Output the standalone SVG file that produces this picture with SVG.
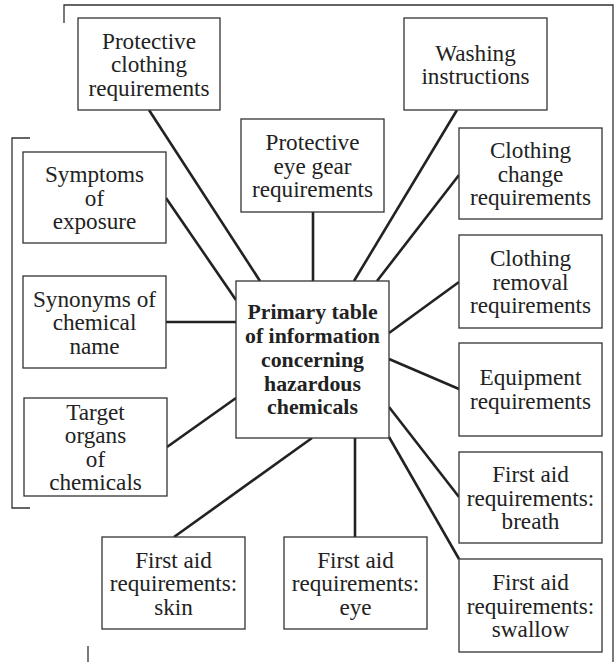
<svg xmlns="http://www.w3.org/2000/svg" width="616" height="662" viewBox="0 0 616 662">
  <style>
    .box { fill: #fff; stroke: #333; stroke-width: 1.3; }
    .frame { fill: none; stroke: #333; stroke-width: 1.3; }
    .link { stroke: #222; stroke-width: 2.6; fill: none; stroke-linecap: butt; }
    text { font-size: 23.2px; fill: #222; text-anchor: middle; }
    .hub text { font-weight: bold; font-size: 21.8px; }
  </style>
  <rect width="616" height="662" fill="#fff"/>

  <!-- brackets framing the groups -->
  <g id="brackets">
    <path class="frame" d="M64,23 V5 H613 V662"/>
    <path class="frame" d="M30,138 H12 V508 H30"/>
    <path class="frame" d="M88,646 V662"/>
  </g>

  <!-- connectors from the central table -->
  <g id="connectors">
    <line class="link" x1="149" y1="110" x2="260" y2="281"/>
    <line class="link" x1="313" y1="212" x2="313" y2="281"/>
    <line class="link" x1="457" y1="110" x2="354" y2="281"/>
    <line class="link" x1="459" y1="175" x2="377" y2="281"/>
    <line class="link" x1="459" y1="282" x2="389" y2="333"/>
    <line class="link" x1="459" y1="389" x2="389" y2="359"/>
    <line class="link" x1="459" y1="497" x2="389" y2="407"/>
    <line class="link" x1="459" y1="559" x2="389" y2="437"/>
    <line class="link" x1="355" y1="438" x2="355" y2="537"/>
    <line class="link" x1="174" y1="537" x2="312" y2="438"/>
    <line class="link" x1="167" y1="447" x2="236" y2="398"/>
    <line class="link" x1="166" y1="322" x2="236" y2="322"/>
    <line class="link" x1="166" y1="198" x2="236" y2="300"/>
  </g>

  <g font-family="'Liberation Serif', 'Times New Roman', Times, serif">
  <g id="hub" class="hub">
    <rect class="box" x="236" y="281" width="153" height="157"/>
    <text x="312.5" y="319">Primary table</text>
    <text x="312.5" y="343">of information</text>
    <text x="312.5" y="367">concerning</text>
    <text x="312.5" y="391">hazardous</text>
    <text x="312.5" y="414">chemicals</text>
  </g>

  <g id="protective-clothing">
    <rect class="box" x="78" y="18" width="142" height="92"/>
    <text x="149" y="48.5">Protective</text>
    <text x="149" y="72">clothing</text>
    <text x="149" y="95.5">requirements</text>
  </g>

  <g id="washing">
    <rect class="box" x="404" y="18" width="143" height="92"/>
    <text x="475.5" y="60.5">Washing</text>
    <text x="475.5" y="84">instructions</text>
  </g>

  <g id="eye-gear">
    <rect class="box" x="241" y="119" width="143" height="93"/>
    <text x="312.5" y="150">Protective</text>
    <text x="312.5" y="173.5">eye gear</text>
    <text x="312.5" y="197">requirements</text>
  </g>

  <g id="clothing-change">
    <rect class="box" x="459" y="128" width="143" height="91"/>
    <text x="530.5" y="158">Clothing</text>
    <text x="530.5" y="181.5">change</text>
    <text x="530.5" y="205">requirements</text>
  </g>

  <g id="clothing-removal">
    <rect class="box" x="459" y="235" width="143" height="93"/>
    <text x="530.5" y="266">Clothing</text>
    <text x="530.5" y="289.5">removal</text>
    <text x="530.5" y="313">requirements</text>
  </g>

  <g id="equipment">
    <rect class="box" x="459" y="343" width="143" height="93"/>
    <text x="530.5" y="385">Equipment</text>
    <text x="530.5" y="408.5">requirements</text>
  </g>

  <g id="first-aid-breath">
    <rect class="box" x="459" y="452" width="143" height="91"/>
    <text x="530.5" y="482">First aid</text>
    <text x="530.5" y="505.5">requirements:</text>
    <text x="530.5" y="529">breath</text>
  </g>

  <g id="first-aid-swallow">
    <rect class="box" x="459" y="559" width="143" height="93"/>
    <text x="530.5" y="590">First aid</text>
    <text x="530.5" y="613.5">requirements:</text>
    <text x="530.5" y="637">swallow</text>
  </g>

  <g id="first-aid-eye">
    <rect class="box" x="284" y="537" width="143" height="92"/>
    <text x="355.5" y="567.5">First aid</text>
    <text x="355.5" y="591">requirements:</text>
    <text x="355.5" y="614.5">eye</text>
  </g>

  <g id="first-aid-skin">
    <rect class="box" x="102" y="537" width="143" height="92"/>
    <text x="173.5" y="567.5">First aid</text>
    <text x="173.5" y="591">requirements:</text>
    <text x="173.5" y="614.5">skin</text>
  </g>

  <g id="symptoms">
    <rect class="box" x="23" y="152" width="143" height="91"/>
    <text x="94.5" y="182">Symptoms</text>
    <text x="94.5" y="205.5">of</text>
    <text x="94.5" y="229">exposure</text>
  </g>

  <g id="synonyms">
    <rect class="box" x="23" y="276" width="143" height="92"/>
    <text x="94.5" y="306.5">Synonyms of</text>
    <text x="94.5" y="330">chemical</text>
    <text x="94.5" y="353.5">name</text>
  </g>

  <g id="target-organs">
    <rect class="box" x="24" y="398" width="143" height="98"/>
    <text x="95.5" y="419.5">Target</text>
    <text x="95.5" y="443">organs</text>
    <text x="95.5" y="466.5">of</text>
    <text x="95.5" y="490">chemicals</text>
  </g>
  </g>
</svg>
